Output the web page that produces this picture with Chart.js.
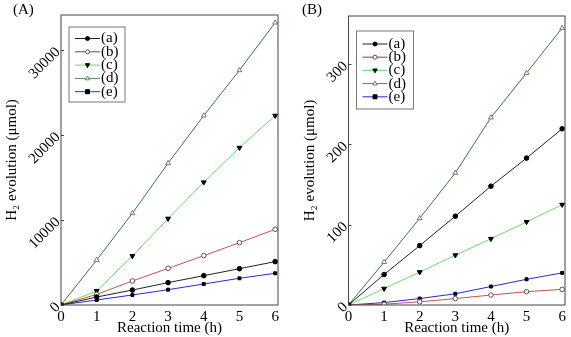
<!DOCTYPE html>
<html>
<head>
<meta charset="utf-8">
<script src="https://cdn.jsdelivr.net/npm/chart.js@4"></script>
<style>
body{margin:0;background:#fff;}
#wrap{position:relative;width:571px;height:337px;overflow:hidden;}
canvas{position:absolute;top:0;}
.tag{position:absolute;top:0;font:15px/18px "Liberation Serif";color:#000;}
</style>
</head>
<body>
<div id="wrap">
  <canvas id="chartA" width="285" height="337" style="left:0"></canvas>
  <canvas id="chartB" width="286" height="337" style="left:285px"></canvas>
  <div class="tag" style="left:13px">(A)</div>
  <div class="tag" style="left:302px">(B)</div>
</div>
<script>
// data
const hours = [0, 1, 2, 3, 4, 5, 6]
const seriesNames = ['(a)', '(b)', '(c)', '(d)', '(e)']

// panel (A)
const a_A = [0, 940, 1760, 2630, 3450, 4270, 5100]
const b_A = [0, 1250, 2820, 4310, 5800, 7330, 8900]
const c_A = [0, 1650, 5760, 10160, 14430, 18500, 22270]
const d_A = [0, 5290, 10790, 16670, 22270, 27600, 33200]
const e_A = [0, 590, 1180, 1800, 2470, 3140, 3730]

// panel (B)
const a_B = [0, 38, 74, 110.6, 148, 183, 219.5]
const b_B = [0, 1, 4, 8, 12.4, 16.6, 19.5]
const c_B = [0, 20.4, 41, 62, 82.5, 103.5, 125]
const d_B = [0, 53.4, 108, 164.5, 233.5, 289, 345]
const e_B = [0, 3, 8, 14, 23, 32, 40]

const xTicks = [0, 1, 2, 3, 4, 5, 6]
const yTicksA = [0, 10000, 20000, 30000]
const yTicksB = [0, 100, 200, 300]

// looks of each series
const lineColors = ['#222222', '#c9504f', '#62e062', '#2f7f2f', '#2828dd']
const legendColors = ['#222222', '#a83232', '#62e062', '#4a8a4a', '#2828dd']
const markerKind = ['circle', 'circle', 'triangle', 'triangle', 'rect']
const markerRot = [0, 0, 180, 0, 0]
const markerSize = [2.3, 2.3, 2.8, 2.8, 2.1]
const markerFill = ['#000', '#fff', '#000', '#fff', '#000']
const markerEdge = ['#000', '#555', '#000', '#777', '#000']

const FONT = 'Liberation Serif'

function makeSets(lists) {
  return lists.map((vals, i) => ({
    label: seriesNames[i],
    data: vals.map((v, j) => ({x: hours[j], y: v})),
    borderColor: lineColors[i],
    legendColor: legendColors[i],
    borderWidth: 1,
    pointStyle: markerKind[i],
    rotation: markerRot[i],
    pointRadius: markerSize[i],
    pointBackgroundColor: markerFill[i],
    pointBorderColor: markerEdge[i],
    pointBorderWidth: 1,
    tension: 0,
    fill: false,
  }))
}

function drawMarker(ctx, kind, rot, x, y, r, fill, edge) {
  ctx.save()
  ctx.translate(x, y)
  ctx.rotate(rot * Math.PI / 180)
  ctx.beginPath()
  if (kind == 'circle') {
    ctx.arc(0, 0, r, 0, Math.PI * 2)
  } else if (kind == 'triangle') {
    ctx.moveTo(0, -r * 1.2)
    ctx.lineTo(r * 1.1, r * 0.7)
    ctx.lineTo(-r * 1.1, r * 0.7)
    ctx.closePath()
  } else {
    ctx.rect(-r, -r, r * 2, r * 2)
  }
  ctx.fillStyle = fill
  ctx.fill()
  ctx.strokeStyle = edge
  ctx.lineWidth = 1
  ctx.stroke()
  ctx.restore()
}

// frame round the plot, inward ticks, legend box inside it
const framePlugin = {
  id: 'frame',
  afterDraw(chart, args, opts) {
    const ctx = chart.ctx
    const ca = chart.chartArea
    ctx.save()
    ctx.strokeStyle = '#444'
    ctx.lineWidth = 1
    ctx.strokeRect(ca.left, ca.top, ca.right - ca.left, ca.bottom - ca.top)

    const ys = chart.scales.y
    ctx.beginPath()
    ys.ticks.forEach(t => {
      const py = Math.round(ys.getPixelForValue(t.value)) + 0.5
      ctx.moveTo(ca.left, py)
      ctx.lineTo(ca.left + 3, py)
    })
    ctx.stroke()

    // legend
    const bx = ca.left + opts.dx, by = ca.top + opts.dy
    ctx.fillStyle = '#fff'
    ctx.fillRect(bx, by, opts.w, opts.h)
    ctx.strokeStyle = '#777'
    ctx.strokeRect(bx, by, opts.w, opts.h)
    ctx.font = '15px "' + FONT + '"'
    ctx.textBaseline = 'middle'
    chart.data.datasets.forEach((ds, i) => {
      const y = by + opts.first + i * opts.step
      ctx.strokeStyle = ds.legendColor
      ctx.beginPath()
      ctx.moveTo(bx + 6, y)
      ctx.lineTo(bx + 31, y)
      ctx.stroke()
      drawMarker(ctx, ds.pointStyle, ds.rotation, bx + 18.5, y, 2, ds.pointBackgroundColor, ds.pointBorderColor)
      ctx.fillStyle = '#000'
      ctx.fillText(ds.label, bx + 32, y)
    })
    ctx.restore()
  }
}

function makeChart(id, lists, yMax, yTicks, pad, yWidth, titlePad, legend) {
  let ctx = document.getElementById(id).getContext('2d')
  return new Chart(ctx, {
    type: 'line',
    data: { datasets: makeSets(lists) },
    plugins: [framePlugin],
    options: {
      responsive: false,
      animation: false,
      layout: { padding: pad },
      plugins: {
        legend: { display: false },
        tooltip: { enabled: false },
        frame: legend,
      },
      scales: {
        x: {
          type: 'linear',
          min: 0,
          max: 6.08,
          grid: { display: false, drawTicks: false },
          border: { display: false },
          afterBuildTicks: s => { s.ticks = xTicks.map(v => ({value: v})) },
          afterFit: s => { s.height = 32 },
          ticks: { color: '#000', padding: 3, font: { family: FONT, size: 15 }, maxRotation: 0 },
          title: { display: true, text: 'Reaction time (h)', color: '#000', padding: {top: 0, bottom: 0}, font: { family: FONT, size: 15 } },
        },
        y: {
          min: 0,
          max: yMax,
          grid: { display: false, drawTicks: false },
          border: { display: false },
          afterBuildTicks: s => { s.ticks = yTicks.map(v => ({value: v})) },
          afterFit: s => { s.width = yWidth },
          ticks: { color: '#000', padding: 3, minRotation: 45, maxRotation: 45, font: { family: FONT, size: 15 }, callback: v => String(v) },
          title: { display: true, text: 'H\u2082 evolution (\u03bcmol)', color: '#000', padding: {top: titlePad, bottom: 0}, font: { family: FONT, size: 15 } },
        },
      },
    },
  })
}

makeChart('chartA', [a_A, b_A, c_A, d_A, e_A], 34100, yTicksA,
  { left: 0, top: 15, right: 7, bottom: 0 }, 61, 3,
  { dx: 8, dy: 12, w: 56, h: 75, first: 11.5, step: 13.3 })

makeChart('chartB', [a_B, b_B, c_B, d_B, e_B], 360, yTicksB,
  { left: 11, top: 16, right: 6, bottom: 0 }, 52.5, 5,
  { dx: 8, dy: 15, w: 57, h: 78, first: 13, step: 13.2 })
</script>
</body>
</html>
